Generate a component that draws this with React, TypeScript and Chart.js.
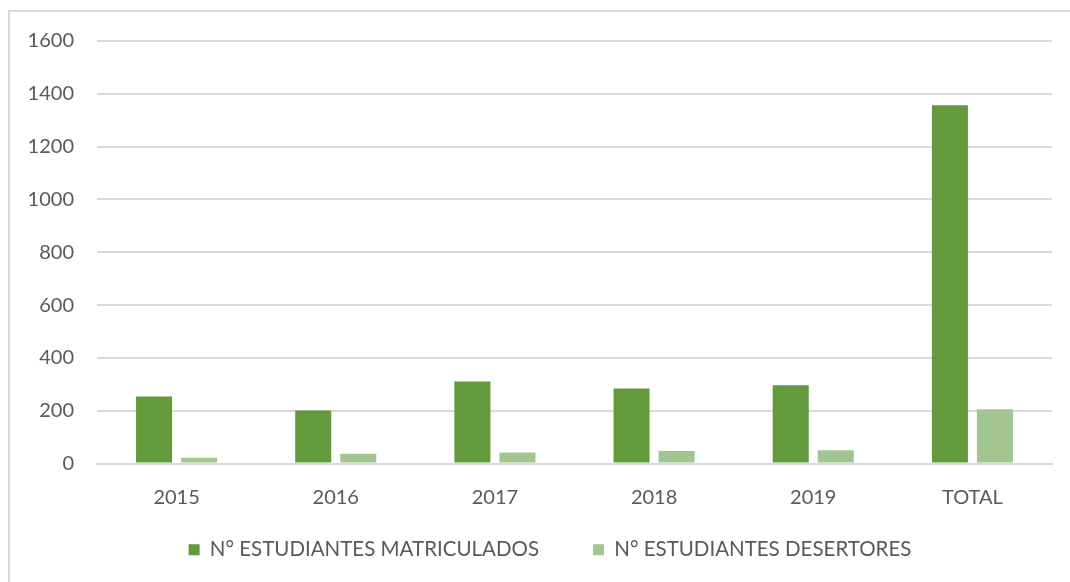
import React, { useEffect, useRef } from "react";
import { Chart, registerables } from "chart.js";

Chart.register(...registerables);

const categories = ["2015", "2016", "2017", "2018", "2019", "TOTAL"];
const matriculados = [254, 201, 311, 284, 296, 1357];
const desertores = [22, 37, 42, 47, 50, 205];
const yTicks = [0, 200, 400, 600, 800, 1000, 1200, 1400, 1600];

const FONT = "Lato, 'Open Sans', sans-serif";
const TEXT = "#595959";
const GRID = "#d9d9d9";

const legendShift = {
  id: "legendShift",
  afterLayout(chart: any) {
    const l = chart.legend;
    if (l) {
      l.left += 19;
      l.right += 19;
    }
  },
};

export default function App() {
  const ref = useRef<HTMLCanvasElement | null>(null);

  useEffect(() => {
    if (!ref.current) return;
    const chart = new Chart(ref.current, {
      type: "bar",
      data: {
        labels: categories,
        datasets: [
          {
            label: "N° ESTUDIANTES MATRICULADOS",
            data: matriculados,
            backgroundColor: "#629a3c",
            barPercentage: 0.8,
            categoryPercentage: 0.566,
          },
          {
            label: "N° ESTUDIANTES DESERTORES",
            data: desertores,
            backgroundColor: "#a3c591",
            barPercentage: 0.8,
            categoryPercentage: 0.566,
          },
        ],
      },
      plugins: [legendShift],
      options: {
        animation: false,
        responsive: false,
        maintainAspectRatio: false,
        layout: { padding: { left: 0, right: 18, top: 29, bottom: 12 } },
        plugins: {
          tooltip: { enabled: false },
          legend: {
            position: "bottom",
            labels: {
              color: TEXT,
              font: { family: FONT, size: 20.5 },
              boxWidth: 11,
              boxHeight: 11,
              padding: 54,
            },
          },
        },
        scales: {
          x: {
            afterFit: (axis: any) => {
              axis.height = 22;
            },
            grid: { display: false, drawTicks: false },
            border: { display: true, color: GRID, width: 2 },
            ticks: {
              color: TEXT,
              font: { family: FONT, size: 20 },
              mirror: true,
              padding: -46,
            },
          },
          y: {
            min: 0,
            max: 1600,
            afterBuildTicks: (axis: any) => {
              axis.ticks = yTicks.map((v) => ({ value: v }));
            },
            afterFit: (axis: any) => {
              axis.width = 87;
              axis.paddingTop = 0;
              axis.paddingBottom = 0;
            },
            grid: { color: GRID, lineWidth: 2, drawTicks: false },
            border: { display: false },
            ticks: {
              color: TEXT,
              font: { family: FONT, size: 20 },
              padding: 23,
              callback: (v: any) => String(v),
            },
          },
        },
      },
    });
    return () => chart.destroy();
  }, []);

  return (
    <div
      style={{
        position: "fixed",
        left: 8,
        top: 10,
        width: 1062,
        height: 572,
        borderLeft: "2px solid #d9d9d9",
        borderTop: "2px solid #d9d9d9",
        boxSizing: "border-box",
        background: "#fff",
        overflow: "hidden",
      }}
    >
      <canvas ref={ref} width={1060} height={570} style={{ display: "block" }} />
    </div>
  );
}
